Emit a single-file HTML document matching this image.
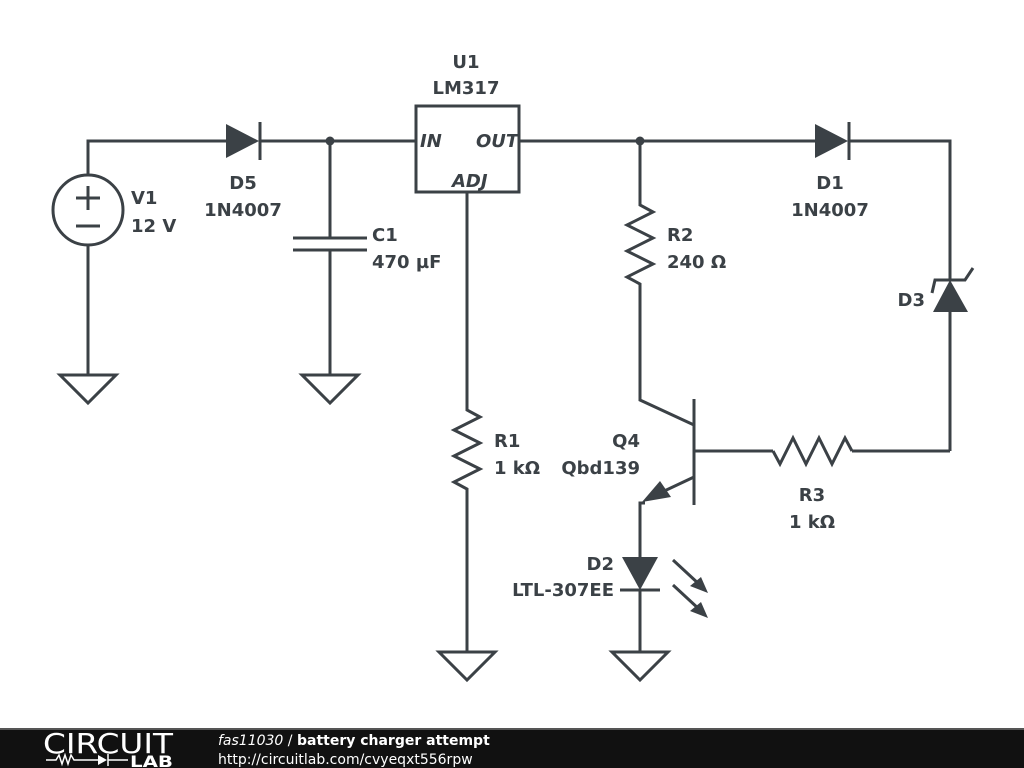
<!DOCTYPE html>
<html><head><meta charset="utf-8"><style>
body{margin:0;width:1024px;height:768px;overflow:hidden;background:#fff}
svg{display:block}
text{font-family:"DejaVu Sans","Liberation Sans",sans-serif;font-weight:bold;font-size:18px;fill:#3b4146}
</style></head><body>
<svg width="1024" height="768" viewBox="0 0 1024 768">
<g stroke="#3b4146" stroke-width="3" fill="none" stroke-linejoin="miter">
<polyline points="88,175 88,141 226,141"/>
<line x1="259" y1="141" x2="416" y2="141"/>
<line x1="519" y1="141" x2="815" y2="141"/>
<polyline points="848,141 950,141 950,280"/>
<line x1="950" y1="312" x2="950" y2="451"/>
<polyline points="950,451 852,451"/>
<line x1="773" y1="451" x2="694" y2="451"/>
<circle cx="88" cy="210" r="35"/>
<line x1="88" y1="245" x2="88" y2="375"/>
<line x1="76" y1="198" x2="100" y2="198"/><line x1="88" y1="186" x2="88" y2="210"/>
<line x1="76" y1="226" x2="100" y2="226"/>
<polygon points="60,375 116,375 88,403"/>
<line x1="260" y1="122" x2="260" y2="160"/>
<line x1="330" y1="141" x2="330" y2="238"/>
<line x1="293" y1="238" x2="367" y2="238"/>
<line x1="293" y1="250" x2="367" y2="250"/>
<line x1="330" y1="250" x2="330" y2="375"/>
<polygon points="302,375 358,375 330,403"/>
<rect x="416" y="106" width="103" height="86"/>
<polyline points="467,192 467,410 480,417 454,430 480,443 454,456 480,469 454,482 467,489 467,652"/>
<polygon points="439,652 495,652 467,680"/>
<polyline points="640,141 640,205 653,212 627,225 653,238 627,251 653,264 627,277 640,284 640,400 694,425"/>
<line x1="694" y1="399" x2="694" y2="505"/>
<polyline points="694,477 660,493"/>
<polyline points="645,503 640,503 640,557"/>
<polyline points="773,451 780,464 793,438 806,464 819,438 832,464 845,438 852,451"/>
<line x1="849" y1="122" x2="849" y2="160"/>
<polyline points="932,293 935,280 965,280 973,268"/>
<line x1="620" y1="590" x2="660" y2="590"/>
<line x1="640" y1="590" x2="640" y2="652"/>
<polygon points="612,652 668,652 640,680"/>
<line x1="673" y1="560" x2="700" y2="585"/>
<line x1="673" y1="585" x2="700" y2="610"/>
</g>
<g fill="#3b4146">
<polygon points="226,124 226,158 259,141"/>
<polygon points="815,124 815,158 848,141"/>
<polygon points="933,312 968,312 950,280"/>
<polygon points="622,557 658,557 640,590"/>
<polygon points="642,502 671,497 660,481"/>
<polygon points="708,593 690,586 701,577"/>
<polygon points="708,618 690,611 701,602"/>
<circle cx="330" cy="141" r="4.5"/>
<circle cx="640" cy="141" r="4.5"/>
</g>
<text x="466" y="68" text-anchor="middle">U1</text>
<text x="466" y="94" text-anchor="middle">LM317</text>
<text x="420" y="147" font-style="italic" font-size="15">IN</text>
<text x="476" y="147" font-style="italic" font-size="15">OUT</text>
<text x="452" y="187" font-style="italic" font-size="15">ADJ</text>
<text x="131" y="204">V1</text>
<text x="131" y="232">12 V</text>
<text x="243" y="189" text-anchor="middle">D5</text>
<text x="243" y="216" text-anchor="middle">1N4007</text>
<text x="372" y="241">C1</text>
<text x="372" y="268">470 µF</text>
<text x="667" y="241">R2</text>
<text x="667" y="268">240 Ω</text>
<text x="830" y="189" text-anchor="middle">D1</text>
<text x="830" y="216" text-anchor="middle">1N4007</text>
<text x="925" y="306" text-anchor="end">D3</text>
<text x="494" y="447">R1</text>
<text x="494" y="474">1 kΩ</text>
<text x="640" y="447" text-anchor="end">Q4</text>
<text x="640" y="474" text-anchor="end">Qbd139</text>
<text x="812" y="501" text-anchor="middle">R3</text>
<text x="812" y="528" text-anchor="middle">1 kΩ</text>
<text x="614" y="570" text-anchor="end">D2</text>
<text x="614" y="596" text-anchor="end">LTL-307EE</text>
<rect x="0" y="728" width="1024" height="40" fill="#111"/>
<rect x="0" y="728" width="1024" height="2" fill="#555"/>
<text x="43" y="753" textLength="130" lengthAdjust="spacingAndGlyphs" style="font-family:'DejaVu Sans',sans-serif;font-weight:normal;font-size:28px;fill:#fff">CIRCUIT</text>
<g stroke="#fff" stroke-width="1.5" fill="none"><polyline points="46,760 56,760 59,755 62,764 65,755 68,764 71,755 74,760 98,760"/><line x1="108" y1="754" x2="108" y2="766"/><line x1="108" y1="760" x2="128" y2="760"/></g>
<polygon points="98,755 98,765 107,760" fill="#fff"/>
<text x="130" y="767" textLength="43" lengthAdjust="spacingAndGlyphs" style="font-size:16px;fill:#fff">LAB</text>
<text x="218" y="745" style="font-size:14px;fill:#fff"><tspan font-style="italic" font-weight="normal">fas11030</tspan><tspan font-weight="normal"> / </tspan>battery charger attempt</text>
<text x="218" y="764" style="font-size:14px;font-weight:normal;fill:#fff">http://circuitlab.com/cvyeqxt556rpw</text>
</svg>
</body></html>
